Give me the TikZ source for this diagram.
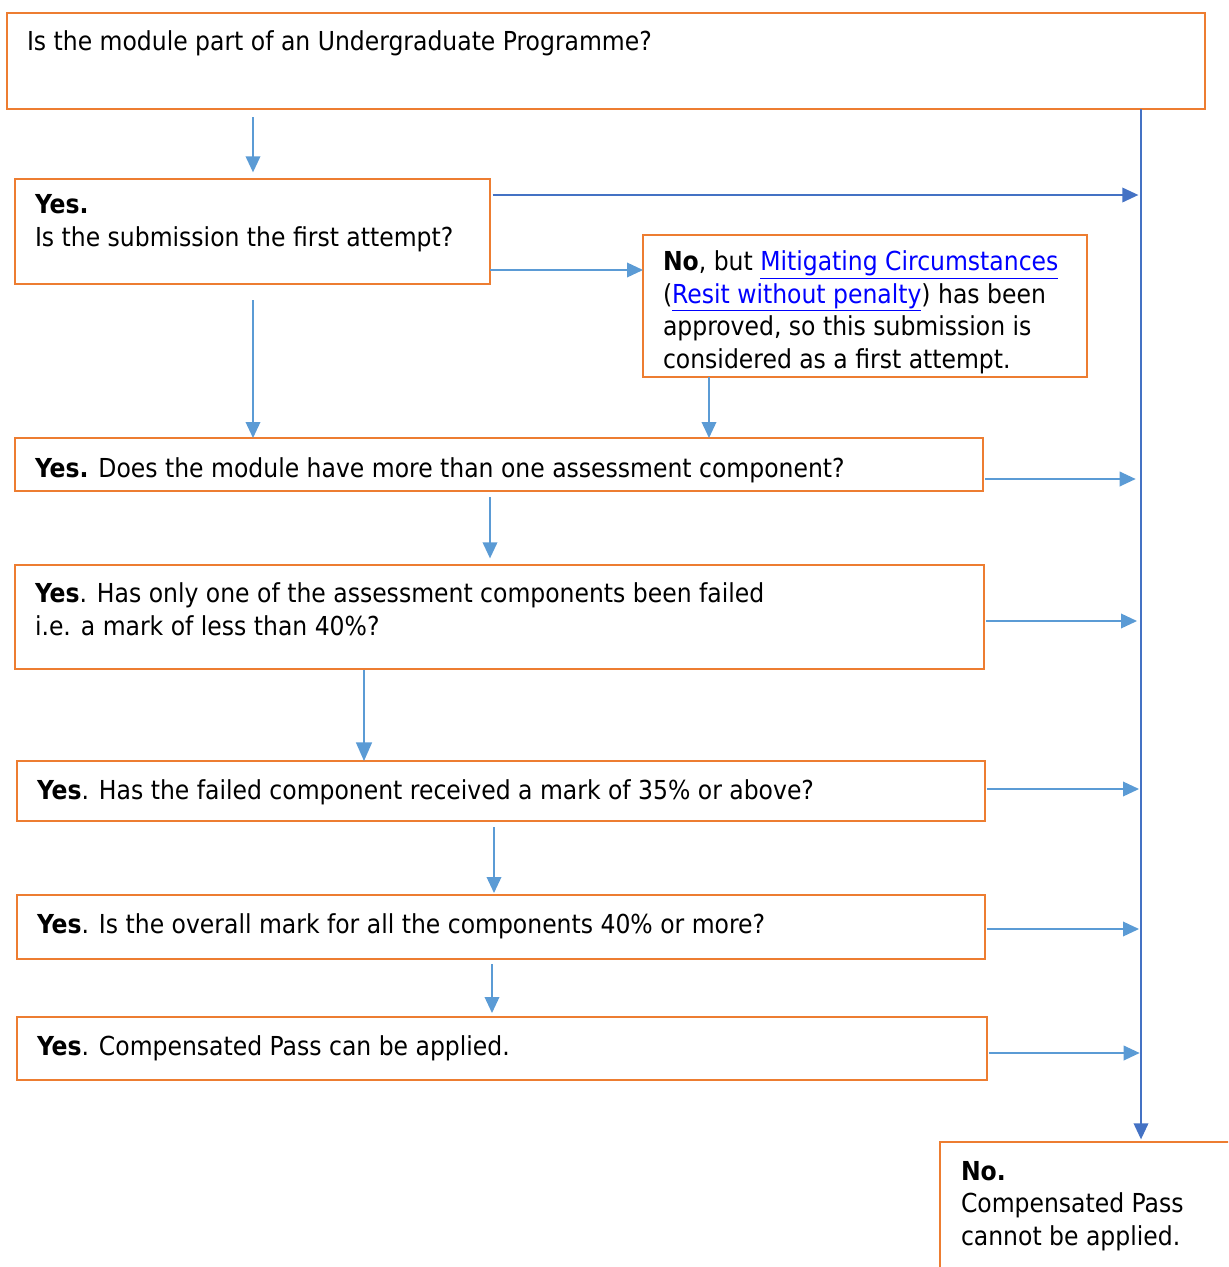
\documentclass[tikz,border=0pt]{standalone}
\usepackage{fontspec}
\setmainfont{DejaVu Sans Condensed}
\usetikzlibrary{arrows.meta,fit}
\definecolor{borange}{HTML}{ED7D31}
\definecolor{lblue}{HTML}{5B9BD5}
\definecolor{dblue}{HTML}{4472C4}
\definecolor{linkblue}{HTML}{0000FF}
\newcommand{\lnk}[1]{\textcolor{linkblue}{\underline{#1}}}
\tikzset{
  box/.style={draw=borange, line width=1.5pt, inner sep=0pt, outer sep=0pt},
  txt/.style={anchor=base west, inner sep=0pt, outer sep=0pt, align=left, font=\fontsize{19.6}{24.3}\selectfont},
  conn/.style={draw=lblue, line width=1.1pt, -{Triangle[length=12pt,width=11pt]}},
  connbig/.style={draw=lblue, line width=1.1pt, -{Triangle[length=14pt,width=12pt]}},
  connd/.style={draw=dblue, line width=1.1pt, -{Triangle[length=12pt,width=11pt]}},
}
\begin{document}
\begin{tikzpicture}[x=0.75pt,y=-0.75pt]
\useasboundingbox (0,0) rectangle (1228,1267);
\clip (0,0) rectangle (1228,1267);
% boxes
\node[box, fit={(7,13) (1205,109)}] (A) {};
\node[box, fit={(15,179) (490,284)}] (B) {};
\node[box, fit={(643,235) (1087,377)}] (C) {};
\node[box, fit={(15,438) (983,491)}] (D) {};
\node[box, fit={(15,565) (984,669)}] (E) {};
\node[box, fit={(17,761) (985,821)}] (F) {};
\node[box, fit={(17,895) (985,959)}] (G) {};
\node[box, fit={(17,1017) (987,1080)}] (H) {};
\node[box, fit={(940,1142) (1240,1290)}] (I) {};
% texts
\node[txt] (tA) at (27,50) {Is the module part of an Undergraduate Programme?};
\node[txt] (tB) at (35,246) {\textbf{Yes.}\\Is the submission the first attempt?};
\node[txt] (tC) at (663,368) {\textbf{No}, but \lnk{Mitigating Circumstances}\\(\lnk{Resit without penalty}) has been\\approved, so this submission is\\considered as a first attempt.};
\node[txt] (tD) at (35,477) {\textbf{Yes.} Does the module have more than one assessment component?};
\node[txt] (tE) at (35,635) {\textbf{Yes}. Has only one of the assessment components been failed\\i.e. a mark of less than 40\%?};
\node[txt] (tF) at (37,799) {\textbf{Yes}. Has the failed component received a mark of 35\% or above?};
\node[txt] (tG) at (37,933) {\textbf{Yes}. Is the overall mark for all the components 40\% or more?};
\node[txt] (tH) at (37,1055) {\textbf{Yes}. Compensated Pass can be applied.};
\node[txt] (tI) at (961,1245) {\textbf{No.}\\Compensated Pass\\cannot be applied.};
% helper coordinates
\coordinate (vx) at (1141,0);
\coordinate (cA) at (253,0);
\coordinate (cC) at (709,0);
\coordinate (cD) at (490,0);
\coordinate (cE) at (364,0);
\coordinate (cF) at (494,0);
\coordinate (cG) at (492,0);
\coordinate (r1) at (0,195);
\coordinate (r2) at (0,270);
\coordinate (r3) at (0,479);
\coordinate (r4) at (0,621);
\coordinate (r5) at (0,789);
\coordinate (r6) at (0,929);
\coordinate (r7) at (0,1053);
% main vertical line
\draw[connd, shorten >=2pt] (A.south -| vx) -- (I.north -| vx);
% downward connectors
\draw[conn, shorten <=6pt, shorten >=5pt] (A.south -| cA) -- (B.north -| cA);
\draw[conn, shorten <=12pt] (B.south -| cA) -- (D.north -| cA);
\draw[conn] (C.south -| cC) -- (D.north -| cC);
\draw[conn, shorten <=4.5pt, shorten >=5pt] (D.south -| cD) -- (E.north -| cD);
\draw[connbig, shorten <=1pt] (E.south -| cE) -- (F.north -| cE);
\draw[conn, shorten <=4.5pt, shorten >=1.5pt] (F.south -| cF) -- (G.north -| cF);
\draw[conn, shorten <=4pt, shorten >=3pt] (G.south -| cG) -- (H.north -| cG);
% rightward connectors
\draw[connd, shorten <=2pt, shorten >=2pt] (B.east |- r1) -- (vx |- r1);
\draw[conn] (B.east |- r2) -- (C.west |- r2);
\draw[conn, shorten <=1.5pt, shorten >=4pt] (D.east |- r3) -- (vx |- r3);
\draw[conn, shorten <=1.5pt, shorten >=3pt] (E.east |- r4) -- (vx |- r4);
\draw[conn, shorten <=1.5pt, shorten >=1.5pt] (F.east |- r5) -- (vx |- r5);
\draw[conn, shorten <=1.5pt, shorten >=1.5pt] (G.east |- r6) -- (vx |- r6);
\draw[conn, shorten <=1.5pt, shorten >=1pt] (H.east |- r7) -- (vx |- r7);
\end{tikzpicture}
\end{document}
